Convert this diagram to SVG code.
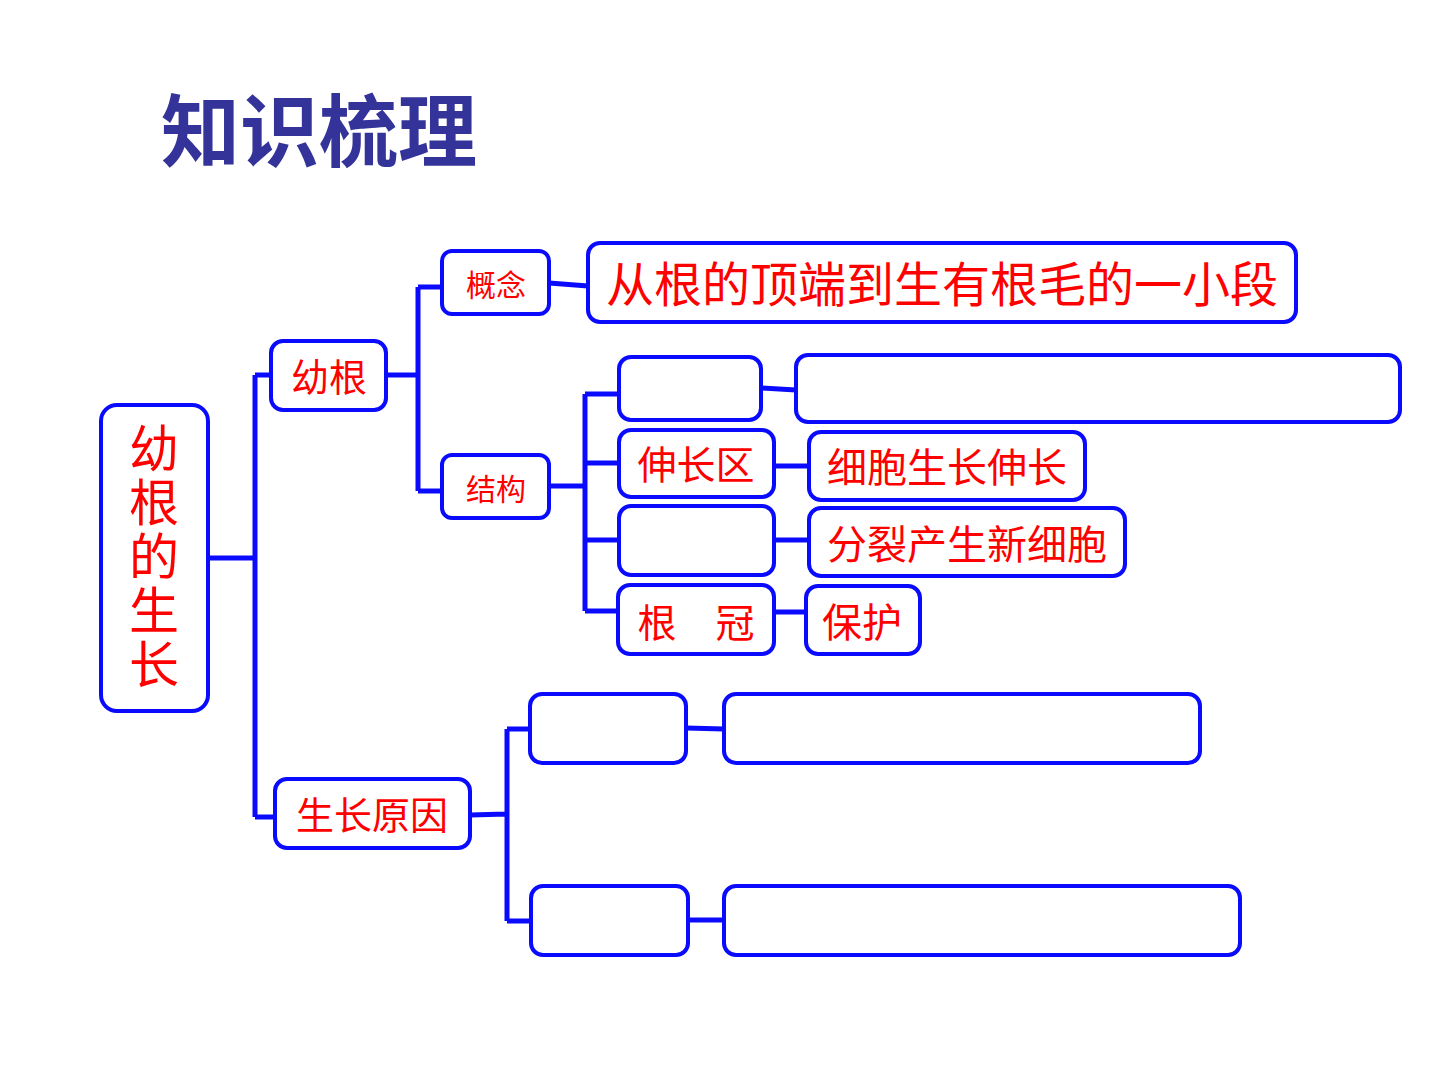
<svg xmlns="http://www.w3.org/2000/svg" width="1440" height="1080" viewBox="0 0 1440 1080">
<style>
.box{fill:#ffffff;stroke:#0a0aff;stroke-width:4}
.lnk{fill:none;stroke:#0a0aff;stroke-width:5;stroke-linejoin:miter}
.t{font-family:"Noto Sans CJK SC","Noto Sans CJK TC",sans-serif;fill:#ff0000;text-anchor:middle}
.title{font-family:"Noto Sans CJK SC","Noto Sans CJK TC",sans-serif;fill:#333399;font-weight:bold;font-size:79px}
</style>
<rect width="1440" height="1080" fill="#ffffff"/>
<text class="title" x="161" y="161">知识梳理</text>
<g id="connectors">
<path class="lnk" d="M208 558 H255 M255 375 V817 M255 375 H271 M255 817 H275"/>
<path class="lnk" d="M386 375 H418 M418 287 V491 M418 287 H442 M418 491 H442"/>
<path class="lnk" d="M549 283 L588 286"/>
<path class="lnk" d="M549 486 H585 M585 394 V611 M585 394 H619 M585 463 H619 M585 540 H619 M585 611 H618"/>
<path class="lnk" d="M761 388 L796 390 M774 466 H809 M774 540 H809 M774 612 H806"/>
<path class="lnk" d="M470 815 L507 814 M507 729 V921 M507 729 H530 M507 921 H531"/>
<path class="lnk" d="M686 728 L724 729 M688 920 H724"/>
</g>
<g id="n-main"><rect class="box" x="101" y="405" width="107" height="306" rx="16"/>
<text class="t" font-size="50" letter-spacing="4" writing-mode="tb" x="154" y="558">幼根的生长</text></g>
<g id="n-yougen"><rect class="box" x="271" y="341" width="115" height="69" rx="12"/><text class="t" font-size="38" x="329" y="391">幼根</text></g>
<g id="n-yuanyin"><rect class="box" x="275" y="779" width="195" height="69" rx="12"/><text class="t" font-size="38" x="372" y="829">生长原因</text></g>
<g id="n-gainian"><rect class="box" x="442" y="251" width="107" height="63" rx="10"/><text class="t" font-size="30" x="496" y="296">概念</text></g>
<g id="n-jiegou"><rect class="box" x="442" y="455" width="107" height="63" rx="10"/><text class="t" font-size="30" x="496" y="500">结构</text></g>
<g id="n-def"><rect class="box" x="588" y="243" width="708" height="79" rx="12"/><text class="t" font-size="48" x="942" y="302">从根的顶端到生有根毛的一小段</text></g>
<g id="n-s1"><rect class="box" x="619" y="357" width="142" height="63" rx="12"/></g>
<g id="n-s2"><rect class="box" x="619" y="430" width="155" height="67" rx="12"/><text class="t" font-size="39" x="696" y="479">伸长区</text></g>
<g id="n-s3"><rect class="box" x="619" y="506" width="155" height="69" rx="12"/></g>
<g id="n-s4"><rect class="box" x="618" y="585" width="156" height="69" rx="12"/><text class="t" font-size="39" x="696" y="637">根　冠</text></g>
<g id="n-f1"><rect class="box" x="796" y="355" width="604" height="67" rx="12"/></g>
<g id="n-f2"><rect class="box" x="809" y="432" width="276" height="68" rx="12"/><text class="t" font-size="40" x="947" y="482">细胞生长伸长</text></g>
<g id="n-f3"><rect class="box" x="809" y="508" width="316" height="68" rx="12"/><text class="t" font-size="40" x="967" y="559">分裂产生新细胞</text></g>
<g id="n-f4"><rect class="box" x="806" y="586" width="114" height="68" rx="12"/><text class="t" font-size="40" x="862" y="637">保护</text></g>
<g id="n-c1"><rect class="box" x="530" y="694" width="156" height="69" rx="12"/></g>
<g id="n-c2"><rect class="box" x="724" y="694" width="476" height="69" rx="12"/></g>
<g id="n-c3"><rect class="box" x="531" y="886" width="157" height="69" rx="12"/></g>
<g id="n-c4"><rect class="box" x="724" y="886" width="516" height="69" rx="12"/></g>
</svg>
